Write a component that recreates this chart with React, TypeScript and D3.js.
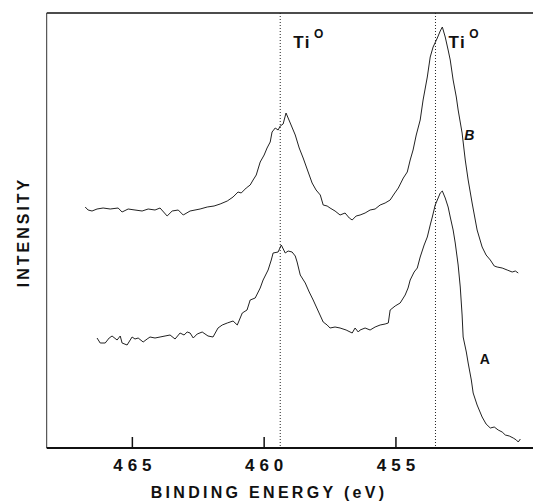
import * as d3 from "d3";

// binding energy (eV) and intensity (arb. units) for spectrum B (upper)
const energyB = [466.79, 466.68, 466.53, 466.34, 466.11, 465.84, 465.54, 465.39, 465.16, 464.9, 464.63, 464.4, 464.14, 463.95, 463.68, 463.49, 463.26, 463.07, 462.81, 462.43, 462.16, 461.9, 461.67, 461.4, 461.18, 460.99, 460.87, 460.68, 460.53, 460.42, 460.3, 460.15, 460.0, 459.89, 459.77, 459.7, 459.58, 459.47, 459.39, 459.28, 459.17, 459.01, 458.82, 458.67, 458.52, 458.33, 458.18, 458.03, 457.87, 457.76, 457.61, 457.5, 457.31, 457.12, 456.93, 456.77, 456.66, 456.51, 456.36, 456.17, 455.98, 455.79, 455.6, 455.41, 455.22, 455.07, 454.91, 454.72, 454.57, 454.46, 454.35, 454.23, 454.08, 453.97, 453.81, 453.7, 453.59, 453.43, 453.32, 453.24, 453.13, 453.02, 452.94, 452.83, 452.71, 452.64, 452.49, 452.37, 452.26, 452.11, 451.92, 451.73, 451.58, 451.42, 451.27, 451.16, 450.97, 450.78, 450.59, 450.47, 450.36];
const intensityB = [241, 238, 237, 239, 240, 239, 240, 236, 239, 238, 237, 239, 238, 240, 232, 237, 238, 233, 237, 239, 241, 242, 244, 247, 251, 256, 255, 260, 263, 268, 273, 286, 293, 300, 306, 316, 320, 318, 322, 324, 335, 325, 313, 300, 290, 276, 265, 258, 253, 243, 242, 240, 237, 233, 235, 230, 228, 232, 233, 235, 238, 239, 243, 245, 248, 254, 260, 270, 276, 288, 298, 313, 328, 348, 371, 391, 401, 410, 417, 421, 411, 398, 388, 368, 351, 338, 315, 288, 268, 245, 218, 201, 193, 188, 182, 181, 180, 178, 176, 177, 175];

// spectrum A (lower)
const energyA = [466.34, 466.22, 466.03, 465.88, 465.77, 465.58, 465.46, 465.39, 465.2, 465.01, 464.9, 464.78, 464.59, 464.44, 464.33, 464.14, 463.95, 463.76, 463.57, 463.38, 463.19, 463.04, 462.92, 462.81, 462.69, 462.54, 462.35, 462.13, 461.94, 461.75, 461.59, 461.4, 461.18, 461.02, 460.83, 460.65, 460.53, 460.34, 460.15, 460.04, 459.85, 459.73, 459.66, 459.47, 459.35, 459.2, 459.09, 458.94, 458.82, 458.75, 458.63, 458.44, 458.29, 458.14, 457.95, 457.76, 457.61, 457.5, 457.31, 457.12, 456.89, 456.66, 456.55, 456.43, 456.36, 456.17, 455.98, 455.79, 455.6, 455.41, 455.29, 455.22, 455.03, 454.84, 454.65, 454.54, 454.46, 454.31, 454.19, 454.08, 453.93, 453.81, 453.7, 453.62, 453.51, 453.43, 453.32, 453.24, 453.13, 453.02, 452.94, 452.83, 452.75, 452.64, 452.56, 452.49, 452.45, 452.33, 452.26, 452.14, 452.07, 451.92, 451.73, 451.58, 451.42, 451.27, 451.12, 450.97, 450.85, 450.7, 450.55, 450.43, 450.36, 450.28];
const intensityA = [110, 105, 105, 110, 112, 108, 112, 105, 103, 111, 109, 110, 106, 109, 111, 110, 111, 112, 113, 109, 115, 113, 116, 115, 110, 114, 116, 112, 111, 120, 123, 125, 127, 123, 135, 138, 148, 150, 160, 168, 178, 188, 195, 196, 203, 195, 197, 196, 192, 186, 173, 165, 156, 148, 137, 126, 123, 120, 121, 120, 118, 115, 120, 116, 118, 120, 118, 121, 123, 124, 125, 138, 142, 145, 153, 160, 168, 176, 180, 191, 203, 211, 223, 231, 243, 248, 255, 257, 250, 241, 231, 218, 205, 183, 161, 133, 111, 96, 85, 68, 55, 43, 31, 24, 20, 21, 18, 16, 13, 12, 10, 8, 6, 9];

const xTicks = [465, 460, 455];
const peakLines = [459.39, 453.5];
const peakLabels = [{ e: 459.39, text: "Ti" }, { e: 453.5, text: "Ti" }];

export default function App() {
  const width = 533;
  const height = 503;
  const left = 46.7;
  const top = 13;
  const bottom = 448;

  const x = d3.scaleLinear().domain([468.25, 449.8]).range([left, 533]);
  const y = d3.scaleLinear().domain([0, 435]).range([bottom, top]);

  const line = d3
    .line<[number, number]>()
    .x((d) => x(d[0]))
    .y((d) => y(d[1]));

  const dataB = energyB.map((e, i) => [e, intensityB[i]] as [number, number]);
  const dataA = energyA.map((e, i) => [e, intensityA[i]] as [number, number]);

  const font = "'Liberation Sans', Arial, sans-serif";

  return (
    <svg
      width={width}
      height={height}
      style={{ position: "absolute", left: 0, top: 0, background: "#fff" }}
      fontFamily={font}
    >
      {/* frame */}
      <line x1={left} x2={width} y1={top} y2={top} stroke="#111" strokeWidth={1.6} />
      <line x1={left} x2={left} y1={top} y2={bottom} stroke="#333" strokeWidth={1} />
      <line x1={left} x2={width} y1={bottom} y2={bottom} stroke="#111" strokeWidth={2} />

      {/* ticks */}
      {xTicks.map((t) => (
        <g key={t}>
          <line x1={x(t)} x2={x(t)} y1={bottom} y2={bottom - 11} stroke="#111" strokeWidth={1.5} />
          <text
            x={x(t) + 2.5}
            y={471}
            textAnchor="middle"
            fontSize={17}
            fontWeight="bold"
            letterSpacing={5}
            fill="#111"
          >
            {t}
          </text>
        </g>
      ))}

      {/* dotted peak positions */}
      {peakLines.map((e) => (
        <line
          key={e}
          x1={x(e)}
          x2={x(e)}
          y1={top}
          y2={bottom}
          stroke="#222"
          strokeWidth={1}
          strokeDasharray="1,2"
        />
      ))}

      {/* spectra */}
      <path d={line(dataB) ?? ""} fill="none" stroke="#222" strokeWidth={1} />
      <path d={line(dataA) ?? ""} fill="none" stroke="#222" strokeWidth={1} />

      {/* peak labels */}
      {peakLabels.map((p, i) => (
        <text key={i} x={x(p.e) + 13} y={48} fontSize={17} fontWeight="bold" fill="#111" letterSpacing={1.5}>
          {p.text}
          <tspan dx={3} dy={-10} fontSize={12}>
            O
          </tspan>
        </text>
      ))}

      {/* curve labels */}
      <text x={x(452.64) + 6} y={140} fontSize={14} fontWeight="bold" fontStyle="italic" fill="#111">
        B
      </text>
      <text x={x(452.2) + 10} y={364} fontSize={14} fontWeight="bold" fill="#111">
        A
      </text>

      {/* axis titles */}
      <text
        transform={`translate(29,232) rotate(-90)`}
        textAnchor="middle"
        fontSize={16}
        fontWeight="bold"
        letterSpacing={3}
        fill="#111"
      >
        INTENSITY
      </text>
      <text x={269} y={498} textAnchor="middle" fontSize={16} fontWeight="bold" letterSpacing={3.3} fill="#111">
        BINDING ENERGY (eV)
      </text>
    </svg>
  );
}
